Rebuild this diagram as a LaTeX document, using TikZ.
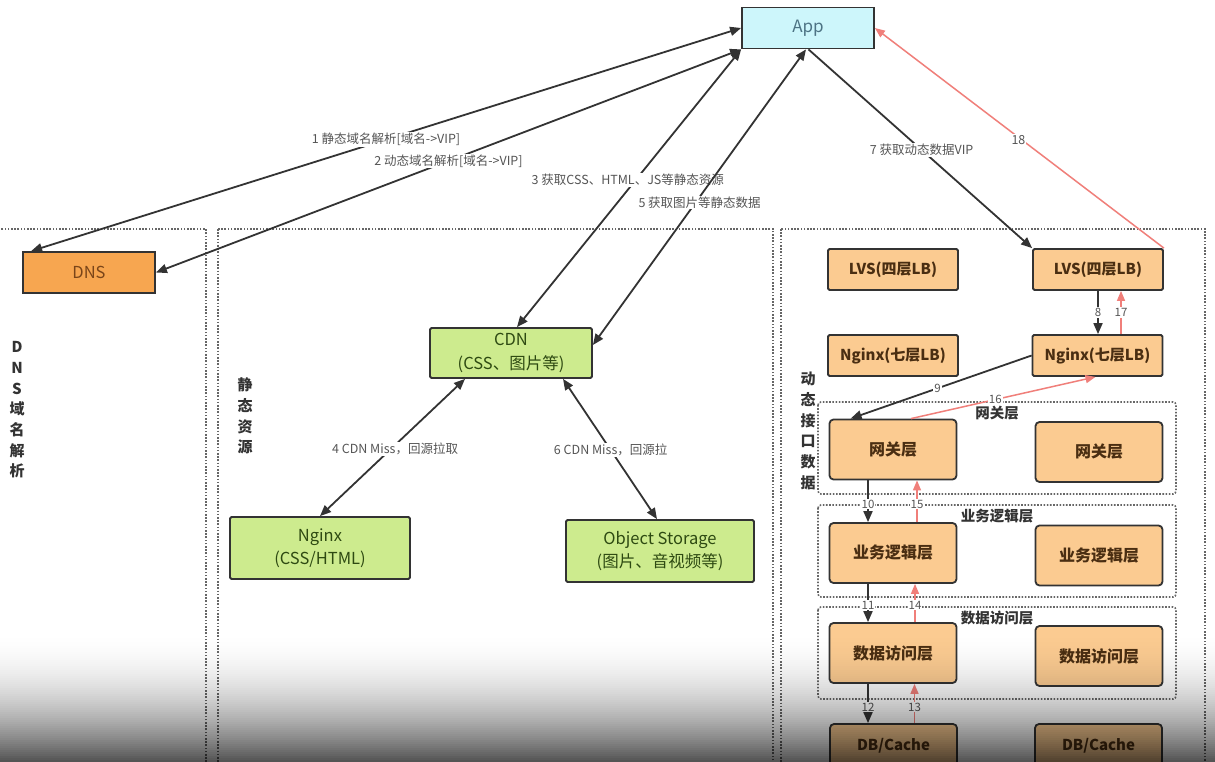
\documentclass[tikz,border=0pt]{standalone}
\usepackage{fontspec}
\setmainfont{Noto Sans CJK SC}
\usetikzlibrary{arrows.meta,calc}
\definecolor{appfill}{HTML}{CDF6FB}
\definecolor{apptext}{HTML}{4D7384}
\definecolor{boxline}{HTML}{333333}
\definecolor{dnsfill}{HTML}{F7A650}
\definecolor{dnstext}{HTML}{7A4519}
\definecolor{orangefill}{HTML}{FBCB91}
\definecolor{orangetext}{HTML}{4A2E12}
\definecolor{greenfill}{HTML}{CDEB8E}
\definecolor{greentext}{HTML}{2E4A12}
\definecolor{linegray}{HTML}{333333}
\definecolor{redline}{HTML}{F07F7A}
\definecolor{labelgray}{HTML}{555555}
\definecolor{dotgray}{HTML}{666666}
\definecolor{grouptext}{HTML}{333333}
\begin{document}
\begin{tikzpicture}[x=1pt,y=-1pt,
 base/.style={draw=boxline, line width=1.8pt, inner sep=0pt, align=center},
 appbox/.style={base, fill=appfill, text=apptext, font=\fontsize{17}{20}\selectfont, minimum width=132pt, minimum height=41pt},
 dnsbox/.style={base, fill=dnsfill, text=dnstext, font=\fontsize{16.5}{20}\selectfont, minimum width=132pt, minimum height=41pt},
 greenbox/.style={base, fill=greenfill, text=greentext, font=\fontsize{16.5}{23.5}\selectfont, rounded corners=1.5pt},
 lbbox/.style={base, fill=orangefill, text=orangetext, font=\bfseries\fontsize{15}{18}\selectfont, minimum width=130pt, minimum height=41pt, rounded corners=1.5pt},
 layerbox/.style={base, fill=orangefill, text=orangetext, font=\bfseries\fontsize{16}{19}\selectfont, minimum width=127pt, minimum height=60pt, rounded corners=4pt},
 region/.style={draw=dotgray, line width=1.6pt, dash pattern=on 1.6pt off 1.6pt},
 group/.style={region, rounded corners=3pt},
 conn/.style={draw=linegray, line width=1.8pt, -{Triangle[length=11pt,width=9pt]}},
 both/.style={draw=linegray, line width=1.8pt, {Triangle[length=11pt,width=9pt]}-{Triangle[length=11pt,width=9pt]}},
 rconn/.style={draw=redline, line width=1.5pt, -{Triangle[length=10pt,width=8pt]}},
 lbl/.style={fill=white, text=labelgray, inner sep=1pt, font=\fontsize{12.5}{14}\selectfont},
 slbl/.style={fill=white, text=labelgray, inner sep=1pt, font=\fontsize{11.5}{13}\selectfont},
 grouplbl/.style={text=grouptext, font=\bfseries\fontsize{14.5}{17}\selectfont, inner sep=0pt},
 vlbl/.style={text=grouptext, font=\bfseries\fontsize{15}{20.7}\selectfont, align=center, inner sep=0pt},
]
\useasboundingbox (0,0) rectangle (1215,762);
\clip (0,0) rectangle (1215,762);
\fill[white] (0,0) rectangle (1215,762);

% regions
\draw[region] (-5,229) rectangle (206,790);
\draw[region] (218,229) rectangle (773,790);
\draw[region] (781,229) rectangle (1205,790);
\draw[group] (818,402) rectangle (1176,494);
\draw[group] (818,505) rectangle (1176,597);
\draw[group] (818,607) rectangle (1176,699);

\node[vlbl] (vdns) at (17,410) {D\\N\\S\\域\\名\\解\\析};
\node[vlbl] (vstatic) at (245,416) {静\\态\\资\\源};
\node[vlbl] (vdyn) at (808,431) {动\\态\\接\\口\\数\\据};
\node[grouplbl] (g1lbl) at (997,413) {网关层};
\node[grouplbl] (g2lbl) at (997,516) {业务逻辑层};
\node[grouplbl] (g3lbl) at (997,618) {数据访问层};

% nodes
\node[appbox] (app) at (808,28) {App};
\node[dnsbox] (dns) at (89,272.5) {DNS};
\node[greenbox, minimum width=162pt, minimum height=50pt] (cdn) at (511,353) {CDN\\(CSS、图片等)};
\node[greenbox, minimum width=180pt, minimum height=62pt] (ngs) at (320,548) {Nginx\\(CSS/HTML)};
\node[greenbox, minimum width=188pt, minimum height=62pt] (obj) at (660,551) {Object Storage\\(图片、音视频等)};

\node[lbbox] (lvs1) at (893,269.5) {LVS(四层LB)};
\node[lbbox] (lvs2) at (1098,269.5) {LVS(四层LB)};
\node[lbbox] (ngx1) at (893,355.5) {Nginx(七层LB)};
\node[lbbox] (ngx2) at (1097.5,355.5) {Nginx(七层LB)};
\node[layerbox] (gw1) at (893,449.5) {网关层};
\node[layerbox] (gw2) at (1099,452) {网关层};
\node[layerbox] (biz1) at (893,553) {业务逻辑层};
\node[layerbox] (biz2) at (1099,555.5) {业务逻辑层};
\node[layerbox] (dal1) at (893,653) {数据访问层};
\node[layerbox] (dal2) at (1099,656) {数据访问层};
\node[layerbox, minimum height=44pt, font=\bfseries\fontsize{15}{18}\selectfont] (db1) at (893.5,746) {DB/Cache};
\node[layerbox, minimum height=44pt, font=\bfseries\fontsize{15}{18}\selectfont] (db2) at (1098.5,746) {DB/Cache};

% connectors
\draw[both] ($(dns.north west)+(9,0)$) -- node[lbl, pos=0.5] {1 静态域名解析[域名->VIP]} (app.west);
\draw[both] (dns.east) -- node[lbl, pos=0.5] {2 动态域名解析[域名->VIP]} (app.south west);
\draw[both] ($(cdn.north)+(6,0)$) -- node[lbl, pos=0.53, xshift=-8pt] {3 获取CSS、HTML、JS等静态资源} (app.south west);
\draw[both] ($(cdn.east)+(0,-8)$) -- node[lbl, pos=0.482, xshift=4pt] {5 获取图片等静态数据} ($(app.south)+(-2,0)$);
\draw[conn] ($(app.south)+(0.5,0)$) -- node[lbl, pos=0.506] {7 获取动态数据VIP} (lvs2.north west);
\draw[rconn] (lvs2.north east) -- node[lbl, pos=0.493, xshift=-3pt] {18} (app.east);
\draw[both] ($(cdn.south)+(-46,0)$) -- node[lbl, pos=0.51, xshift=4pt] {4 CDN Miss，回源拉取} (ngs.north);
\draw[both] ($(cdn.south)+(52,0)$) -- node[lbl, pos=0.507] {6 CDN Miss，回源拉} ($(obj.north)+(-3,0)$);

\draw[conn] (lvs2.south) -- node[slbl] {8} (lvs2.south |- ngx2.north);
\draw[rconn] ($(ngx2.north)+(23.5,0)$) -- node[slbl] {17} ($(lvs2.south)+(23,0)$);
\draw[conn] (ngx2.west) -- node[slbl, pos=0.52] {9} ($(gw1.north west)+(22,0)$);
\draw[rconn] ($(gw1.north)+(18,0)$) -- node[slbl, pos=0.457] {16} ($(ngx2.south)+(-2,0)$);
\draw[conn] ($(gw1.south)+(-25,0)$) -- node[slbl, pos=0.57] {10} ($(biz1.north)+(-25,0)$);
\draw[rconn] ($(biz1.north)+(24,0)$) -- node[slbl, pos=0.43] {15} ($(gw1.south)+(24,0)$);
\draw[conn] ($(biz1.south)+(-25,0)$) -- node[slbl, pos=0.55] {11} ($(dal1.north)+(-25,0)$);
\draw[rconn] ($(dal1.north)+(22,0)$) -- node[slbl, pos=0.45] {14} ($(biz1.south)+(22,0)$);
\draw[conn] ($(dal1.south)+(-25,0)$) -- node[slbl, pos=0.59] {12} ($(db1.north)+(-25.5,0)$);
\draw[rconn] ($(db1.north)+(21,0)$) -- node[slbl, pos=0.41] {13} ($(dal1.south)+(21.5,0)$);

% video shading at the bottom (smooth strips)
\foreach \i in {0,...,65}{
  \pgfmathsetmacro{\op}{0.68*((\i+0.5)/66)^2}
  \pgfmathsetmacro{\ya}{630+2*\i}
  \pgfmathsetmacro{\yb}{632.3+2*\i}
  \fill[black, fill opacity=\op] (0,\ya) rectangle (1215,\yb);
}
\end{tikzpicture}
\end{document}
